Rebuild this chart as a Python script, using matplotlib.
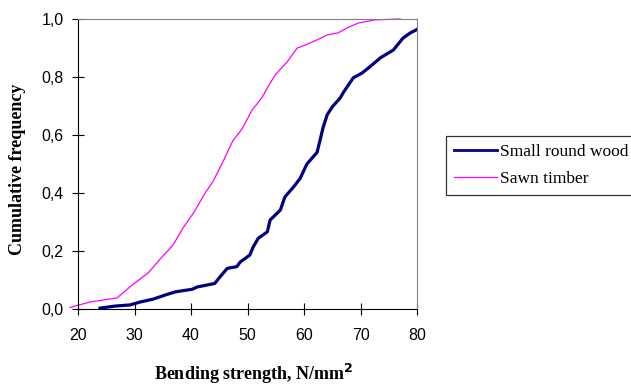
import matplotlib.pyplot as plt
from matplotlib.ticker import FuncFormatter

# values
sawn_x = [18.6, 22.1, 26.9, 29.6, 32.4, 34.9, 36.8, 38.6, 40.4, 42.5, 43.9, 45.7, 47.4,
          49.0, 50.8, 52.6, 53.6, 54.9, 57.0, 58.8, 60.2, 62.3, 64.1, 66.0, 67.6, 69.6,
          72.6, 77.0]
sawn_y = [0.005, 0.024, 0.038, 0.083, 0.124, 0.18, 0.22, 0.28, 0.33, 0.40, 0.44, 0.51, 0.58,
          0.62, 0.686, 0.73, 0.766, 0.807, 0.852, 0.90, 0.91, 0.928, 0.945, 0.952, 0.969,
          0.986, 0.997, 1.0]

round_x = [23.9, 26.5, 29.2, 31.0, 33.3, 35.4, 37.2, 40.2, 41.1, 44.2, 45.1, 46.4, 48.1,
           48.7, 50.4, 51.0, 51.9, 53.5, 54.0, 55.8, 56.6, 58.1, 59.3, 60.5, 62.3, 63.4,
           64.1, 65.0, 66.4, 67.0, 68.7, 70.3, 72.0, 73.5, 75.8, 77.5, 78.8, 79.8, 80.5]
round_y = [0.003, 0.01, 0.014, 0.024, 0.034, 0.048, 0.059, 0.068, 0.076, 0.088, 0.11, 0.14,
           0.146, 0.162, 0.186, 0.214, 0.244, 0.266, 0.307, 0.341, 0.386, 0.42, 0.45, 0.50,
           0.54, 0.628, 0.67, 0.697, 0.728, 0.748, 0.797, 0.814, 0.841, 0.866, 0.893, 0.934,
           0.952, 0.962, 0.97]

x_ticks = [20, 30, 40, 50, 60, 70, 80]
y_ticks = [0.0, 0.2, 0.4, 0.6, 0.8, 1.0]

fig = plt.figure(figsize=(6.31, 3.86), dpi=100)
ax = fig.add_axes([0.1236, 0.1995, 0.5374, 0.7513])

ax.plot(round_x, round_y, color='#000080', lw=2.3, label='Small round wood', clip_on=True)
ax.plot(sawn_x, sawn_y, color='#ff00ff', lw=0.9, label='Sawn timber', clip_on=False)

ax.set_xlim(20, 80)
ax.set_ylim(0, 1)
ax.set_xticks(x_ticks)
ax.set_yticks(y_ticks)
ax.yaxis.set_major_formatter(FuncFormatter(lambda v, p: f'{v:.1f}'.replace('.', ',')))

for s in ['top', 'right']:
    ax.spines[s].set_color('#808080')
for s in ['left', 'bottom']:
    ax.spines[s].set_color('black')
ax.tick_params(direction='inout', length=9, width=0.8, labelsize=11.5)
ax.tick_params(axis='x', pad=9)
ax.tick_params(axis='y', pad=6)
for lab in ax.get_xticklabels() + ax.get_yticklabels():
    lab.set_fontfamily('Liberation Sans')

ax.set_xlabel('Bending strength, N/mm$^\\mathbf{2}$', fontfamily='Liberation Serif',
              fontweight='bold', fontsize=13)
ax.set_ylabel('Cumulative frequency', fontfamily='Liberation Serif',
              fontweight='bold', fontsize=13)
ax.xaxis.set_label_coords(0.518, -0.183)
ax.yaxis.set_label_coords(-0.153, 0.48)

leg = fig.legend(loc='upper left', bbox_to_anchor=(446 / 631, 1 - 136 / 386), frameon=True,
                 fancybox=False, edgecolor='black', handlelength=2.5, handletextpad=0.15,
                 borderaxespad=0, borderpad=0.45, labelspacing=0.65,
                 prop={'family': 'Liberation Serif', 'size': 12.5})
leg.get_frame().set_linewidth(0.9)
leg.get_lines()[0].set_linewidth(2.0)

fig.savefig('out.png', dpi=100)
